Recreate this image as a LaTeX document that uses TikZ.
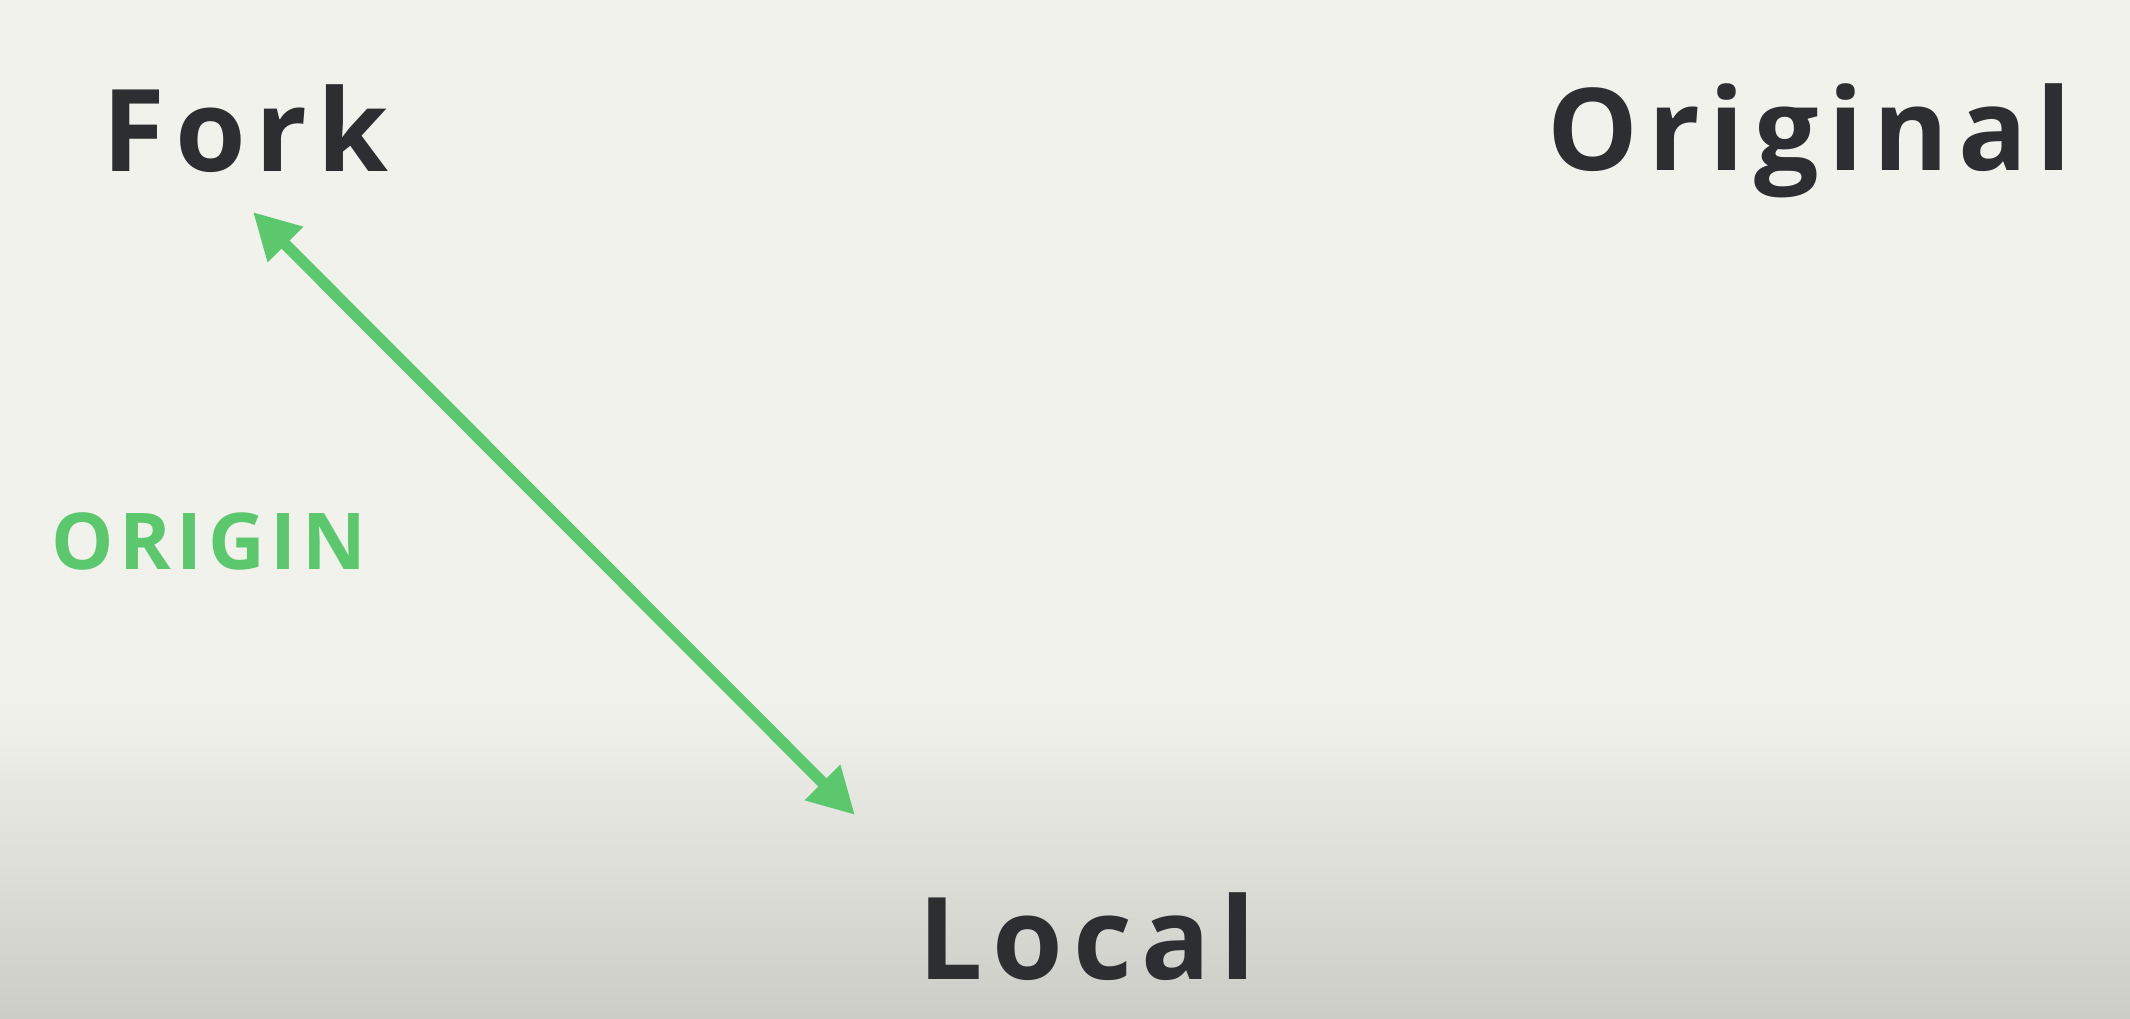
\documentclass[tikz,border=0pt]{standalone}
\usepackage{fontspec}
\setmainfont{Open Sans}
\newfontfamily\titlefont[LetterSpace=8.5]{Open Sans}
\newfontfamily\remotefont[LetterSpace=7]{Open Sans}
\usetikzlibrary{arrows.meta}
\definecolor{bgtop}{RGB}{242,242,237}
\definecolor{bgbot}{RGB}{205,205,200}
\definecolor{ink}{RGB}{45,46,50}
\definecolor{gitgreen}{RGB}{92,200,110}
\tikzset{
  title/.style={inner sep=0pt, anchor=base west, text=ink, font=\titlefont\bfseries\fontsize{32.5}{40}\selectfont},
  remotelabel/.style={inner sep=0pt, anchor=base west, text=gitgreen, font=\remotefont\bfseries\fontsize{22.3}{27}\selectfont},
  link/.style={draw=gitgreen, line width=1.15mm,
    {Triangle[length=4.6mm,width=4.7mm]}-{Triangle[length=4.6mm,width=4.7mm]}}
}
\begin{document}
\begin{tikzpicture}[x=0.01cm,y=-0.01cm]
\useasboundingbox (0,0) rectangle (2130,1018);
\fill[bgtop] (0,0) rectangle (2130,700);
\shade[top color=bgtop, bottom color=bgbot] (0,699) rectangle (2130,1018);
\node[title] (fork) at (102,171) {Fork};
\node[title] (original) at (1547,170) {Original};
\node[title] (local) at (918,979) {Local};
\node[remotelabel] (origin) at (51,569) {ORIGIN};
\coordinate (a1) at (253,212);
\coordinate (a2) at (855,815);
\draw[link] (a1) -- (a2);
\end{tikzpicture}
\end{document}
